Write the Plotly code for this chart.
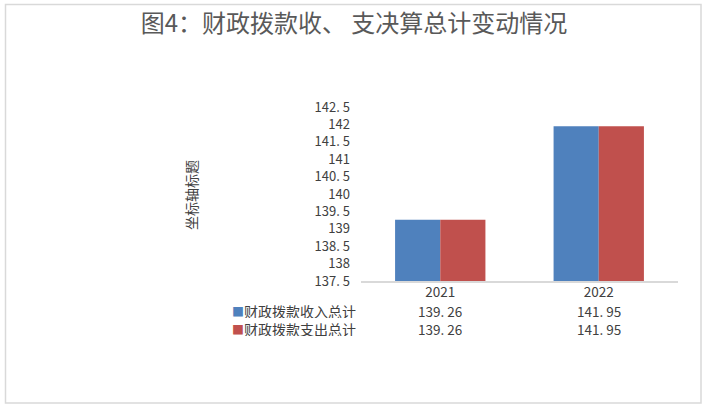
import plotly.graph_objects as go

# ---- data ----
categories = ["2021", "2022"]
series_names = ["财政拨款收入总计", "财政拨款支出总计"]
income_values = [139.26, 141.95]
expense_values = [139.26, 141.95]
y_tick_values = [137.5, 138, 138.5, 139, 139.5, 140, 140.5, 141, 141.5, 142, 142.5]
title_text = "图4：财政拨款收、 支决算总计变动情况"
y_axis_title = "坐标轴标题"

colors = ["#4F81BD", "#C0504D"]
FONT = "Noto Sans CJK SC"
TXT = "#404040"


def fmt_tick(v):
    return f"{v:g}".replace(".", ". ")


def fmt_val(v):
    return f"{v:.2f}".replace(".", ". ")


W, H = 704, 411
L, R, T, B = 361, 26, 107, 130
pw, ph = W - L - R, H - T - B


def px(x):
    return (x - L) / pw


def py(y):
    return (H - B - y) / ph


fig = go.Figure()
all_series = [income_values, expense_values]
for name, vals, c in zip(series_names, all_series, colors):
    fig.add_trace(go.Bar(x=categories, y=vals, name=name, marker=dict(color=c, line=dict(width=0))))

annotations = []
# data table rows
row_y = [310.5, 328.5]
for r, (name, vals, c) in enumerate(zip(series_names, all_series, colors)):
    annotations.append(dict(
        x=px(357), y=py(row_y[r]), xref="paper", yref="paper", xanchor="right", yanchor="middle",
        text=f"<span style='color:{c};font-size:12px'>■</span>{name}", showarrow=False,
        height=15, borderpad=0,
        font=dict(family=FONT, size=14, color=TXT)))
    for i, v in enumerate(vals):
        annotations.append(dict(
            x=i, y=py(row_y[r]), xref="x", yref="paper", xanchor="center", yanchor="middle",
            text=fmt_val(v), showarrow=False, height=14, borderpad=0,
            font=dict(family=FONT, size=13.5, color=TXT)))
# y axis title
annotations.append(dict(
    x=px(191), y=py(195), xref="paper", yref="paper", xanchor="center", yanchor="middle",
    text=y_axis_title, textangle=-90, showarrow=False, font=dict(family=FONT, size=14, color=TXT)))

fig.update_layout(
    width=W, height=H,
    margin=dict(l=L, r=R, t=T, b=B, autoexpand=False),
    paper_bgcolor="white", plot_bgcolor="white",
    barmode="group", bargap=0.43, bargroupgap=0,
    showlegend=False,
    title=dict(text=title_text, x=354 / W, xanchor="center", y=1 - 24 / H, yanchor="middle",
               yref="container", font=dict(family=FONT, size=24, color="#595959")),
    font=dict(family=FONT, color=TXT, size=13),
    xaxis=dict(type="category", range=[-0.5, len(categories) - 0.5], showline=True,
               linecolor="#D9D9D9", linewidth=1.5, ticks="", ticklabelstandoff=-2,
               showgrid=False, tickfont=dict(family=FONT, size=13.5, color=TXT), fixedrange=True),
    yaxis=dict(range=[137.5, 142.5], tickvals=y_tick_values, ticktext=[fmt_tick(v) for v in y_tick_values],
               showgrid=False, zeroline=False, showline=False, ticks="", ticklabelstandoff=10,
               tickfont=dict(family=FONT, size=13, color=TXT), fixedrange=True),
    annotations=annotations,
    shapes=[dict(type="rect", xref="paper", yref="paper",
                 x0=px(5.5), x1=px(701), y0=py(403), y1=py(4.5),
                 line=dict(color="#D9D9D9", width=1.5), fillcolor="rgba(0,0,0,0)", layer="below")],
)

fig.write_html("out.html", config={"displayModeBar": False},
               post_script="document.body.style.margin='0';document.body.style.overflow='hidden';")
